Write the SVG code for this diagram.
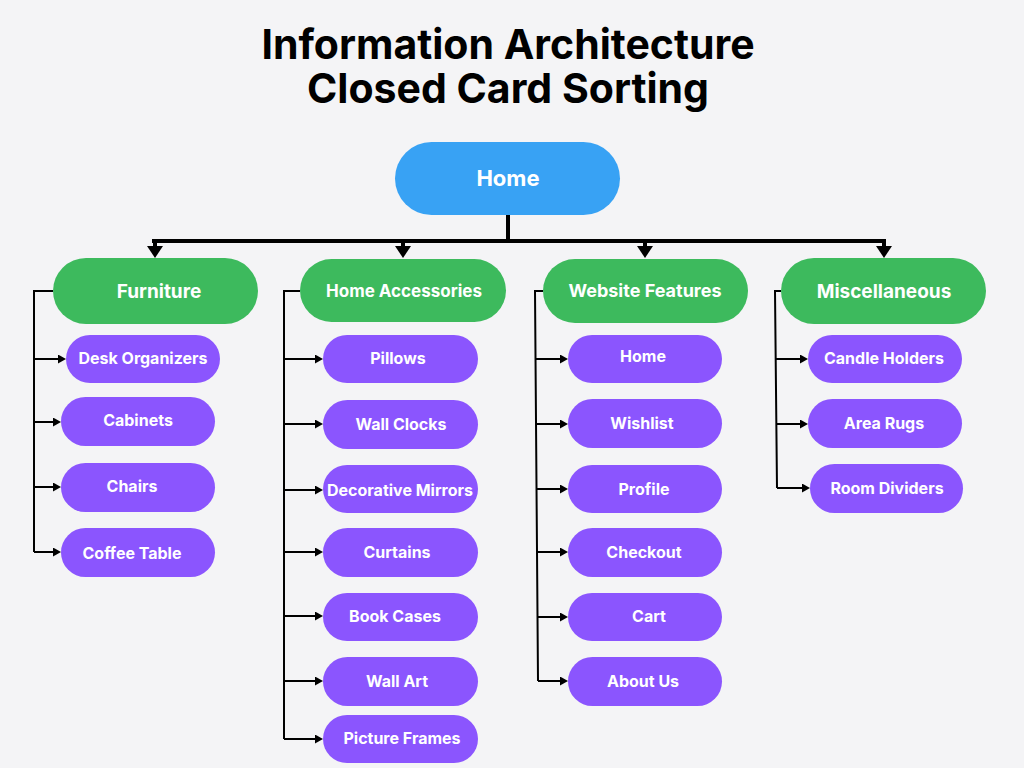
<svg xmlns="http://www.w3.org/2000/svg" width="1024" height="768" viewBox="0 0 1024 768">
  <defs>
    <style>
      .title { font-family: Inter, "Liberation Sans", sans-serif; font-weight: 700; font-size: 41px; fill: #000; text-anchor: middle; }
      .root rect { fill: #38A2F4; }
      .cat rect { fill: #3DBA5D; }
      .item rect { fill: #8B55FE; }
      .lbl { font-family: Inter, "Liberation Sans", sans-serif; font-weight: 700; fill: #fff; text-anchor: middle; }
      .root .lbl { font-size: 22px; }
      .cat .lbl { font-size: 19px; }
      .item .lbl { font-size: 16px; }
      .trunk { stroke: #000; stroke-width: 4; fill: none; }
      .bracket { stroke: #000; stroke-width: 2; fill: none; }
    </style>
    <marker id="bigHead" viewBox="0 0 12 16" refX="0" refY="8" markerWidth="12" markerHeight="16" markerUnits="userSpaceOnUse" orient="auto">
      <path d="M0,0 L12,8 L0,16 z" fill="#000"/>
    </marker>
    <marker id="smallHead" viewBox="0 0 8 9" refX="0" refY="4.5" markerWidth="8" markerHeight="9" markerUnits="userSpaceOnUse" orient="auto">
      <path d="M0,0 L8,4.5 L0,9 z" fill="#000"/>
    </marker>
  </defs>

  <rect width="1024" height="768" fill="#F4F4F6"/>

  <text class="title" x="508" y="59">Information Architecture</text>
  <text class="title" x="508" y="103">Closed Card Sorting</text>

  <!-- connectors -->
  <g id="connectors">
    <path class="trunk" d="M508,215 V241 M152,241 H886"/>
    <path class="trunk" d="M155,241 V246" marker-end="url(#bigHead)"/>
    <path class="trunk" d="M403,241 V246" marker-end="url(#bigHead)"/>
    <path class="trunk" d="M645,241 V246" marker-end="url(#bigHead)"/>
    <path class="trunk" d="M884,241 V246" marker-end="url(#bigHead)"/>

    <!-- Furniture bracket -->
    <path class="bracket" d="M53,291 H34 V552"/>
    <path class="bracket" d="M34,359 H58" marker-end="url(#smallHead)"/>
    <path class="bracket" d="M34,422 H53" marker-end="url(#smallHead)"/>
    <path class="bracket" d="M34,487 H53" marker-end="url(#smallHead)"/>
    <path class="bracket" d="M34,552 H53" marker-end="url(#smallHead)"/>

    <!-- Home Accessories bracket -->
    <path class="bracket" d="M300,291 H284 V739"/>
    <path class="bracket" d="M284,359 H315" marker-end="url(#smallHead)"/>
    <path class="bracket" d="M284,424 H315" marker-end="url(#smallHead)"/>
    <path class="bracket" d="M284,490 H315" marker-end="url(#smallHead)"/>
    <path class="bracket" d="M284,552 H315" marker-end="url(#smallHead)"/>
    <path class="bracket" d="M284,616 H315" marker-end="url(#smallHead)"/>
    <path class="bracket" d="M284,681 H315" marker-end="url(#smallHead)"/>
    <path class="bracket" d="M284,739 H315" marker-end="url(#smallHead)"/>

    <!-- Website Features bracket -->
    <path class="bracket" d="M543,291 H535 L538,681"/>
    <path class="bracket" d="M535.5,359 H560" marker-end="url(#smallHead)"/>
    <path class="bracket" d="M536,424 H560" marker-end="url(#smallHead)"/>
    <path class="bracket" d="M536.5,489 H560" marker-end="url(#smallHead)"/>
    <path class="bracket" d="M537,552 H560" marker-end="url(#smallHead)"/>
    <path class="bracket" d="M537.5,617 H560" marker-end="url(#smallHead)"/>
    <path class="bracket" d="M538,681 H560" marker-end="url(#smallHead)"/>

    <!-- Miscellaneous bracket -->
    <path class="bracket" d="M781,291 H775 L777,488"/>
    <path class="bracket" d="M775.5,359 H800" marker-end="url(#smallHead)"/>
    <path class="bracket" d="M776,424 H800" marker-end="url(#smallHead)"/>
    <path class="bracket" d="M777,488 H802" marker-end="url(#smallHead)"/>
  </g>

  <!-- root -->
  <g id="node-home" class="root">
    <rect x="395" y="142" width="225" height="73" rx="36.5"/>
    <text class="lbl" x="508" y="186">Home</text>
  </g>

  <!-- categories -->
  <g id="node-furniture" class="cat">
    <rect x="53" y="258" width="205" height="66" rx="33"/>
    <text class="lbl" x="159" y="298">Furniture</text>
  </g>
  <g id="node-home-accessories" class="cat">
    <rect x="300" y="259" width="206" height="63" rx="31.5"/>
    <text class="lbl" x="404" y="297" style="font-size:17px">Home Accessories</text>
  </g>
  <g id="node-website-features" class="cat">
    <rect x="543" y="259" width="205" height="64" rx="32"/>
    <text class="lbl" x="645" y="297" style="font-size:18px">Website Features</text>
  </g>
  <g id="node-miscellaneous" class="cat">
    <rect x="781" y="258" width="205" height="66" rx="33"/>
    <text class="lbl" x="884" y="298">Miscellaneous</text>
  </g>

  <!-- Furniture items -->
  <g id="node-desk-organizers" class="item">
    <rect x="66" y="335" width="154" height="48" rx="24"/>
    <text class="lbl" x="143" y="364">Desk Organizers</text>
  </g>
  <g id="node-cabinets" class="item">
    <rect x="61" y="397" width="154" height="49" rx="24.5"/>
    <text class="lbl" x="138" y="426">Cabinets</text>
  </g>
  <g id="node-chairs" class="item">
    <rect x="61" y="463" width="154" height="49" rx="24.5"/>
    <text class="lbl" x="132" y="492">Chairs</text>
  </g>
  <g id="node-coffee-table" class="item">
    <rect x="61" y="528" width="154" height="49" rx="24.5"/>
    <text class="lbl" x="132" y="559">Coffee Table</text>
  </g>

  <!-- Home Accessories items -->
  <g id="node-pillows" class="item">
    <rect x="323" y="335" width="155" height="48" rx="24"/>
    <text class="lbl" x="398" y="364">Pillows</text>
  </g>
  <g id="node-wall-clocks" class="item">
    <rect x="323" y="400" width="155" height="49" rx="24.5"/>
    <text class="lbl" x="401" y="430">Wall Clocks</text>
  </g>
  <g id="node-decorative-mirrors" class="item">
    <rect x="323" y="465" width="155" height="48" rx="24"/>
    <text class="lbl" x="400" y="496">Decorative Mirrors</text>
  </g>
  <g id="node-curtains" class="item">
    <rect x="323" y="528" width="155" height="49" rx="24.5"/>
    <text class="lbl" x="397" y="558">Curtains</text>
  </g>
  <g id="node-book-cases" class="item">
    <rect x="323" y="593" width="155" height="48" rx="24"/>
    <text class="lbl" x="395" y="622">Book Cases</text>
  </g>
  <g id="node-wall-art" class="item">
    <rect x="323" y="657" width="155" height="49" rx="24.5"/>
    <text class="lbl" x="397" y="687">Wall Art</text>
  </g>
  <g id="node-picture-frames" class="item">
    <rect x="323" y="715" width="155" height="48" rx="24"/>
    <text class="lbl" x="402" y="744">Picture Frames</text>
  </g>

  <!-- Website Features items -->
  <g id="node-wf-home" class="item">
    <rect x="568" y="335" width="154" height="48" rx="24"/>
    <text class="lbl" x="643" y="362">Home</text>
  </g>
  <g id="node-wishlist" class="item">
    <rect x="568" y="399" width="154" height="49" rx="24.5"/>
    <text class="lbl" x="642" y="429">Wishlist</text>
  </g>
  <g id="node-profile" class="item">
    <rect x="568" y="465" width="154" height="48" rx="24"/>
    <text class="lbl" x="644" y="495">Profile</text>
  </g>
  <g id="node-checkout" class="item">
    <rect x="568" y="528" width="154" height="49" rx="24.5"/>
    <text class="lbl" x="644" y="558">Checkout</text>
  </g>
  <g id="node-cart" class="item">
    <rect x="568" y="593" width="154" height="48" rx="24"/>
    <text class="lbl" x="649" y="622">Cart</text>
  </g>
  <g id="node-about-us" class="item">
    <rect x="568" y="657" width="154" height="49" rx="24.5"/>
    <text class="lbl" x="643" y="687">About Us</text>
  </g>

  <!-- Miscellaneous items -->
  <g id="node-candle-holders" class="item">
    <rect x="808" y="335" width="154" height="48" rx="24"/>
    <text class="lbl" x="884" y="364">Candle Holders</text>
  </g>
  <g id="node-area-rugs" class="item">
    <rect x="808" y="399" width="154" height="49" rx="24.5"/>
    <text class="lbl" x="884" y="429">Area Rugs</text>
  </g>
  <g id="node-room-dividers" class="item">
    <rect x="810" y="464" width="153" height="49" rx="24.5"/>
    <text class="lbl" x="887" y="494">Room Dividers</text>
  </g>
</svg>
